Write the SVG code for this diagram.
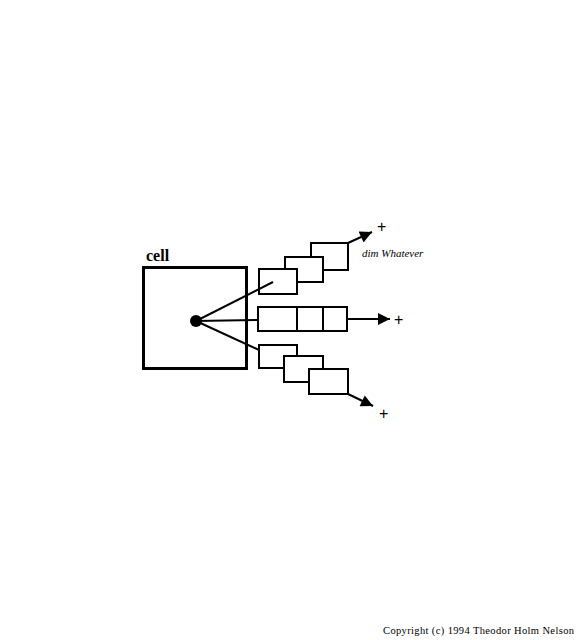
<svg xmlns="http://www.w3.org/2000/svg" width="580" height="640" viewBox="0 0 580 640">
<defs>
<style>
.box{fill:#fff;stroke:#000;stroke-width:2}
.ln{stroke:#000;stroke-width:2;fill:none}
.t{font-family:"Liberation Serif",serif;fill:#000}
.plus{font-family:"Liberation Sans",sans-serif;fill:#000;font-size:16px}
</style>
<marker id="ah" viewBox="0 0 10 10" refX="10" refY="5" markerWidth="15" markerHeight="12" markerUnits="userSpaceOnUse" orient="auto">
<path d="M0,0 L10,5 L0,10 Z" fill="#000"/>
</marker>
</defs>
<rect width="580" height="640" fill="#fff"/>
<g id="cell">
<rect x="143.5" y="267.5" width="103" height="101" fill="#fff" stroke="#000" stroke-width="3"/>
<text class="t" x="146" y="261" font-size="16" font-weight="bold">cell</text>
</g>
<g id="upper">
<rect class="box" x="311" y="243" width="37" height="27"/>
<rect class="box" x="285" y="257" width="38" height="25"/>
<rect class="box" x="259" y="269" width="38" height="25"/>
</g>
<g id="middle">
<rect class="box" x="258" y="307" width="89" height="24"/>
<line class="ln" x1="297" y1="307" x2="297" y2="331"/>
<line class="ln" x1="323" y1="307" x2="323" y2="331"/>
</g>
<g id="lower">
<rect class="box" x="259" y="345" width="38" height="23"/>
<rect class="box" x="284" y="356" width="39" height="26"/>
<rect class="box" x="309" y="369" width="39" height="25"/>
</g>
<g id="connectors">
<line class="ln" x1="196" y1="321" x2="273" y2="282"/>
<line class="ln" x1="196" y1="321" x2="258" y2="320"/>
<line class="ln" x1="196" y1="321" x2="259" y2="350"/>
<line class="ln" x1="348" y1="243" x2="372" y2="232" marker-end="url(#ah)"/>
<line class="ln" x1="347" y1="319" x2="390" y2="319" marker-end="url(#ah)"/>
<line class="ln" x1="348" y1="394" x2="373" y2="406" marker-end="url(#ah)"/>
</g>
<circle id="dot" cx="196" cy="321" r="6" fill="#000"/>
<g id="labels">
<text class="plus" x="377" y="232">+</text>
<text class="plus" x="394" y="325">+</text>
<text class="plus" x="379" y="419">+</text>
<text class="t" x="362" y="257" font-size="11" font-style="italic">dim Whatever</text>
<text class="t" x="383" y="634" font-size="10.5" textLength="191">Copyright (c) 1994 Theodor Holm Nelson</text>
</g>
</svg>
